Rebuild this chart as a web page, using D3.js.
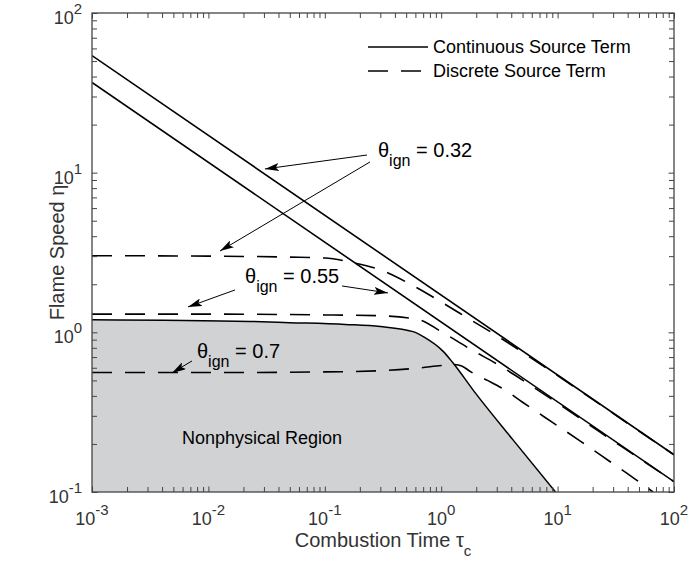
<!DOCTYPE html>
<html>
<head>
<meta charset="utf-8">
<script src="https://cdn.jsdelivr.net/npm/d3@7"></script>
<style>
  body { margin: 0; background: #fff; }
  text { font-family: "Liberation Sans", Arial, Helvetica, sans-serif; }
</style>
</head>
<body>
<div id="chart"></div>
<script>
// axis ticks (labels are 10^exp)
var xTicks = [1e-3, 1e-2, 1e-1, 1e0, 1e1, 1e2];
var xExp = ["-3", "-2", "-1", "0", "1", "2"];
var yTicks = [1e-1, 1e0, 1e1, 1e2];
var yExp = ["-1", "0", "1", "2"];

// continuous source term (solid lines), [tau, eta]
var contUpper = [[1e-3, 54.1], [1e2, 0.171]];
var contLower = [[1e-3, 36.7], [1e2, 0.116]];

// discrete source term (dashed)
var disc032 = [[1e-3, 3.02], [0.01, 3.0], [0.05, 2.96], [0.1, 2.92], [0.171, 2.74], [0.316, 2.43],
  [0.58, 1.95], [1.0, 1.55], [1.78, 1.2], [3.17, 0.93], [5.6, 0.71], [10, 0.535], [20, 0.38],
  [50, 0.241], [100, 0.171]];
var disc055 = [[1e-3, 1.30], [0.01, 1.30], [0.1, 1.285], [0.3, 1.27], [0.645, 1.2], [1.0, 1.01],
  [1.77, 0.787], [3.2, 0.617], [5.46, 0.482], [10, 0.36], [23, 0.238], [50, 0.163], [100, 0.116]];
var disc07 = [[1e-3, 0.56], [0.01, 0.56], [0.1, 0.565], [0.3, 0.575], [0.6, 0.595], [1.0, 0.62],
  [1.25, 0.63], [1.5, 0.615], [1.8, 0.565], [2.5, 0.5], [3.5, 0.437], [5, 0.365], [9.1, 0.272],
  [15.9, 0.207], [27.5, 0.157], [46, 0.121], [66, 0.1]];

// nonphysical region upper boundary
var nonphys = [[1e-3, 1.2], [0.0227, 1.17], [0.05, 1.15], [0.15, 1.12], [0.3, 1.087], [0.573, 1.01],
  [0.72, 0.93], [1.04, 0.76], [1.25, 0.65], [2.0, 0.41], [4.14, 0.212], [9.6, 0.1]];

// annotations: text anchor and arrows [from, to] in data coords
var labels = [
  {value: "0.32", at: [0.2864, 12.54]},
  {value: "0.55", at: [0.02063, 2.038]},
  {value: "0.7", at: [0.00798, 0.691]}
];
var arrows = [
  [[0.2304, 12.9], [0.0306, 10.55]],
  [[0.2445, 11.67], [0.01258, 3.23]],
  [[0.1405, 1.952], [0.349, 1.765]],
  [[0.01693, 1.843], [0.00668, 1.442]],
  [[0.00723, 0.662], [0.00487, 0.557]]
];
var regionLabel = {text: "Nonphysical Region", at: [0.00593, 0.2]};

var W = 690, H = 569;
var margin = {top: 13, right: 16, bottom: 77, left: 92};
var width = W - margin.left - margin.right,
    height = H - margin.top - margin.bottom;

var svg = d3.select("#chart").append("svg")
  .attr("width", W).attr("height", H);
var g = svg.append("g")
  .attr("transform", "translate(" + margin.left + "," + margin.top + ")");

var x = d3.scaleLog().domain([1e-3, 1e2]).range([0, width]);
var y = d3.scaleLog().domain([1e-1, 1e2]).range([height, 0]);

g.append("clipPath").attr("id", "clip")
  .append("rect").attr("width", width).attr("height", height);

var plot = g.append("g").attr("clip-path", "url(#clip)");

var line = d3.line()
  .x(function(d) { return x(d[0]); })
  .y(function(d) { return y(d[1]); })
  .curve(d3.curveMonotoneX);

// shaded nonphysical region
var regionPts = nonphys.concat([[1e-3, 0.1]]);
plot.append("path")
  .attr("d", d3.line().x(function(d) { return x(d[0]); }).y(function(d) { return y(d[1]); })(regionPts) + "Z")
  .attr("fill", "#d1d2d4");
plot.append("path").attr("d", line(nonphys))
  .attr("fill", "none").attr("stroke", "#000").attr("stroke-width", 1.5);

// curves
[contUpper, contLower].forEach(function(s) {
  plot.append("path").attr("d", line(s))
    .attr("fill", "none").attr("stroke", "#000").attr("stroke-width", 1.6);
});
[disc032, disc055, disc07].forEach(function(s) {
  plot.append("path").attr("d", line(s))
    .attr("fill", "none").attr("stroke", "#000").attr("stroke-width", 1.6)
    .attr("stroke-dasharray", "20,13");
});

// axes box with inward ticks (major + minor)
var axisColor = "#444";
var minorX = x.ticks().filter(function(t) { return xTicks.indexOf(t) < 0; });
var minorY = y.ticks().filter(function(t) { return yTicks.indexOf(t) < 0; });

function tickAxes(axisFn, scale, vals, len, tr) {
  var a = g.append("g").attr("transform", tr)
    .call(axisFn(scale).tickValues(vals).tickSize(-len).tickFormat(""));
  a.select(".domain").remove();
  a.selectAll(".tick line").attr("stroke", axisColor);
}
[[xTicks, 5.5], [minorX, 5]].forEach(function(p) {
  tickAxes(d3.axisBottom, x, p[0], p[1], "translate(0," + height + ")");
  tickAxes(d3.axisTop, x, p[0], p[1], "translate(0,0)");
});
[[yTicks, 5.5], [minorY, 5]].forEach(function(p) {
  tickAxes(d3.axisLeft, y, p[0], p[1], "translate(0,0)");
  tickAxes(d3.axisRight, y, p[0], p[1], "translate(" + width + ",0)");
});
g.append("rect").attr("width", width).attr("height", height)
  .attr("fill", "none").attr("stroke", axisColor).attr("stroke-width", 1.3);

// tick labels
var labColor = "#333";
xTicks.forEach(function(t, i) {
  var tx = g.append("text").attr("x", x(t)).attr("y", height + 33)
    .attr("text-anchor", "middle").attr("fill", labColor).style("font-size", "18px");
  tx.append("tspan").text("10");
  tx.append("tspan").attr("dy", -10).style("font-size", "15px").text(xExp[i]);
});
yTicks.forEach(function(t, i) {
  var ty = g.append("text").attr("x", -10).attr("y", y(t) + 11)
    .attr("text-anchor", "end").attr("fill", labColor).style("font-size", "18px");
  ty.append("tspan").text("10");
  ty.append("tspan").attr("dy", -10).style("font-size", "15px").text(yExp[i]);
});

// axis titles
var xt = g.append("text").attr("x", width / 2).attr("y", height + 55)
  .attr("text-anchor", "middle").attr("fill", labColor).style("font-size", "20px");
xt.append("tspan").text("Combustion Time \u03c4");
xt.append("tspan").attr("dy", 9).style("font-size", "15px").text("c");

g.append("text")
  .attr("transform", "translate(-28," + (height / 2) + ") rotate(-90)")
  .attr("text-anchor", "middle").attr("fill", labColor).style("font-size", "20px")
  .text("Flame Speed \u03b7");

// legend
var legend = [
  {label: "Continuous Source Term", dash: null, y: 34},
  {label: "Discrete Source Term", dash: "20,13", y: 58}
];
legend.forEach(function(d) {
  g.append("line").attr("x1", 276).attr("x2", 336).attr("y1", d.y).attr("y2", d.y)
    .attr("stroke", "#000").attr("stroke-width", 1.6)
    .attr("stroke-dasharray", d.dash);
  g.append("text").attr("x", 341).attr("y", d.y + 6)
    .attr("fill", "#000").style("font-size", "18px").text(d.label);
});

// annotations
labels.forEach(function(d) {
  var t = g.append("text").attr("x", x(d.at[0])).attr("y", y(d.at[1]))
    .attr("fill", "#000").style("font-size", "20px");
  t.append("tspan").text("\u03b8");
  t.append("tspan").attr("dy", 9).style("font-size", "16px").text("ign");
  t.append("tspan").attr("dy", -9).text(" = " + d.value);
});

svg.append("defs").append("marker")
  .attr("id", "arrow").attr("viewBox", "0 0 14 8")
  .attr("refX", 14).attr("refY", 4)
  .attr("markerWidth", 14).attr("markerHeight", 8)
  .attr("markerUnits", "userSpaceOnUse")
  .attr("orient", "auto")
  .append("path").attr("d", "M0,0 L14,4 L0,8 L3,4 Z").attr("fill", "#000");

arrows.forEach(function(a) {
  g.append("line")
    .attr("x1", x(a[0][0])).attr("y1", y(a[0][1]))
    .attr("x2", x(a[1][0])).attr("y2", y(a[1][1]))
    .attr("stroke", "#000").attr("stroke-width", 1)
    .attr("marker-end", "url(#arrow)");
});

g.append("text").attr("x", x(regionLabel.at[0])).attr("y", y(regionLabel.at[1]))
  .attr("fill", "#000").style("font-size", "18px").text(regionLabel.text);
</script>
</body>
</html>
